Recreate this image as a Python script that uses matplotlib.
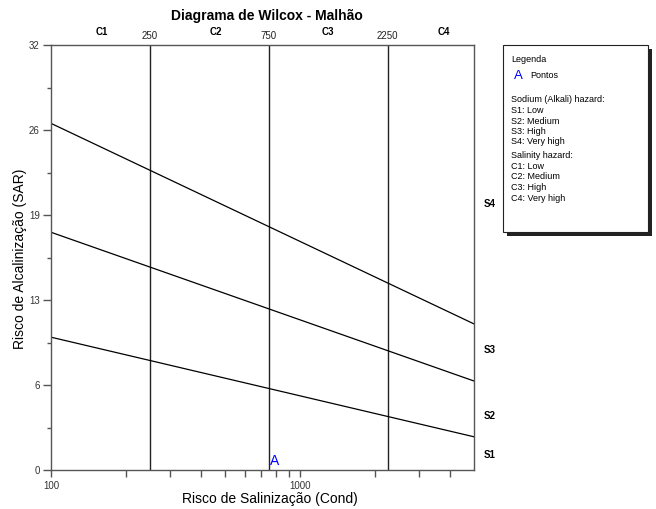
import numpy as np
import matplotlib
matplotlib.use('Agg')
from matplotlib import pyplot as plt
from matplotlib.patches import Rectangle
from matplotlib.ticker import FixedLocator, NullFormatter

plt.rcParams['font.family'] = ['Liberation Sans', 'DejaVu Sans']

# Data
cond_range = [100, 5000]
sar_range = [0, 32]
class_bounds = [250, 750, 2250]
class_names = ['C1', 'C2', 'C3', 'C4']
# S boundaries: SAR at cond=100 and at cond=5000
s_bounds_left = [10.0, 17.9, 26.1]
s_bounds_right = [2.5, 6.7, 11.0]
s_names = ['S1', 'S2', 'S3', 'S4']
s_label_y = [1.1, 4.1, 9.0, 20.0]
c_label_x = [160, 460, 1300, 3800]
points_cond = [790]
points_sar = [0.7]
points_lbl = ['A']

W, H = 656, 509
fig = plt.figure(figsize=(W / 100, H / 100), dpi=100)
ax = fig.add_axes([51 / W, (H - 470) / H, (474 - 51) / W, (470 - 45) / H])

ax.set_xscale('log')
ax.set_xlim(cond_range)
ax.set_ylim(sar_range)

edge = '#555555'
for sp in ax.spines.values():
    sp.set_color(edge)
    sp.set_linewidth(1.0)

# class boundaries
for b in class_bounds:
    ax.plot([b, b], sar_range, color='#222222', lw=1.0)

# sodium hazard boundaries
for yl, yr in zip(s_bounds_left, s_bounds_right):
    ax.plot(cond_range, [yl, yr], color='black', lw=0.9)

# sample points
for cx, sy, lb in zip(points_cond, points_sar, points_lbl):
    ax.text(cx, sy, lb, color='blue', fontsize=10, ha='center', va='center')

# ticks
yt = np.linspace(0, 32, 6)
ax.set_yticks(yt)
ax.set_yticklabels(['%d' % round(v) for v in yt])
ax.yaxis.set_minor_locator(FixedLocator((yt[:-1] + yt[1:]) / 2))
ax.xaxis.set_major_locator(FixedLocator([100, 1000]))
ax.set_xticklabels(['100', '1000'])
ax.xaxis.set_minor_locator(FixedLocator([200, 300, 400, 500, 600, 700, 800, 900,
                                         2000, 3000, 4000]))
ax.xaxis.set_minor_formatter(NullFormatter())
ax.tick_params(which='both', direction='out', color=edge, labelsize=7,
               labelcolor='#333333', width=1.0)
ax.tick_params(axis='y', which='major', length=6, pad=2)
ax.tick_params(axis='y', which='minor', length=3)
ax.tick_params(axis='x', which='both', length=5, pad=3)

# top labels
for b in class_bounds:
    ax.annotate(str(b), (b, 32), xytext=(0, 3), textcoords='offset points',
                fontsize=7, ha='center', va='bottom', color='#222222')
for cx, nm in zip(c_label_x, class_names):
    ax.annotate(nm, (cx, 32), xytext=(0, 6), textcoords='offset points',
                fontsize=7, ha='center', va='bottom', fontweight='bold')
# right labels
for sy, nm in zip(s_label_y, s_names):
    ax.text(5450, sy, nm, fontsize=7, ha='left', va='center', fontweight='bold')

ax.set_xlabel('Risco de Salinização (Cond)', fontsize=10)
ax.xaxis.set_label_coords((270 - 51) / 423, -22 / 425)
ax.set_ylabel('Risco de Alcalinização (SAR)', fontsize=10)
ax.yaxis.set_label_coords(-24 / 423, (470 - 259) / 425)
fig.text(267 / W, 1 - 16 / H, 'Diagrama de Wilcox - Malhão', fontsize=10,
         fontweight='bold', ha='center', va='center')

# legend box with shadow
lx0, ly0, lx1, ly1 = 503, 45, 648, 232
fig.patches.append(Rectangle(((lx0 + 4) / W, 1 - (ly1 + 4) / H), (lx1 - lx0) / W,
                             (ly1 - ly0) / H, transform=fig.transFigure,
                             facecolor='#222222', edgecolor='none'))
fig.patches.append(Rectangle((lx0 / W, 1 - ly1 / H), (lx1 - lx0) / W,
                             (ly1 - ly0) / H, transform=fig.transFigure,
                             facecolor='white', edgecolor='#222222', lw=0.8))

def ltext(x, y, s, size=6.5, **kw):
    fig.text(x / W, 1 - y / H, s, fontsize=size, va='center', ha='left', **kw)

ltext(511, 60, 'Legenda')
ltext(514, 76, 'A', color='blue', size=9.5)
ltext(530, 75, 'Pontos')
legend_lines = ['Sodium (Alkali) hazard:', 'S1: Low', 'S2: Medium', 'S3: High',
                'S4: Very high']
for i, s in enumerate(legend_lines):
    ltext(511, 100 + i * 10.5, s)
legend_lines2 = ['Salinity hazard:', 'C1: Low', 'C2: Medium', 'C3: High',
                 'C4: Very high']
for i, s in enumerate(legend_lines2):
    ltext(511, 155.5 + i * 10.7, s)

fig.savefig('out.png', dpi=100)
